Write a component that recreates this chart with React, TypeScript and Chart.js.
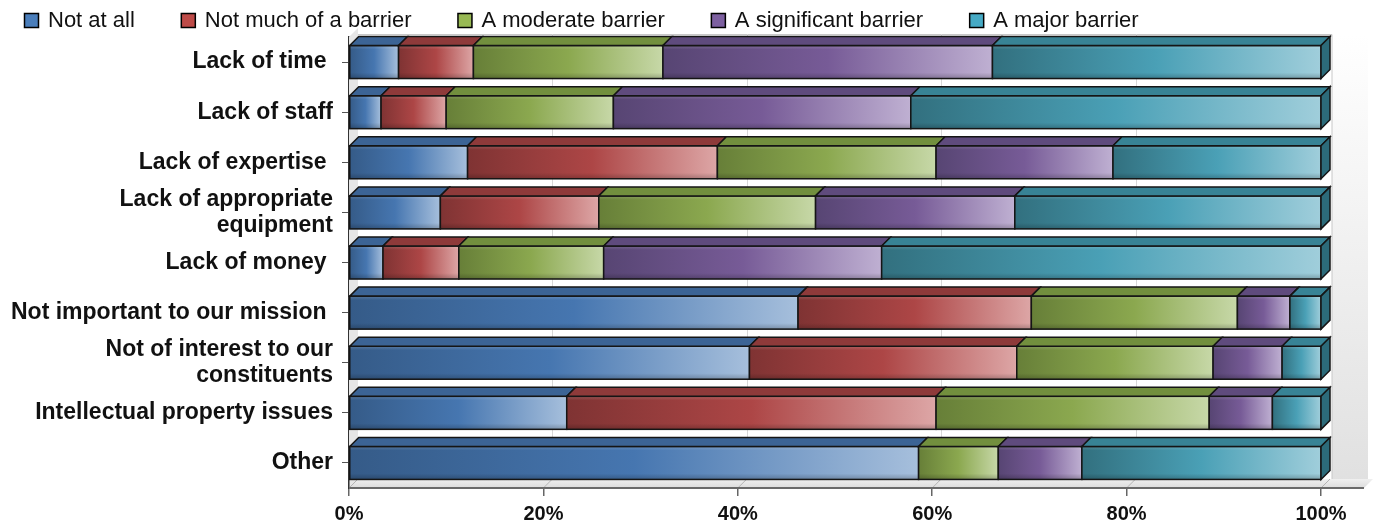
import React, { useEffect, useRef } from 'react';
import { Chart, registerables } from 'chart.js';

Chart.register(...registerables);

const FONT = "'Liberation Sans', Arial, Helvetica, sans-serif";

const categories: (string | string[])[] = [
  'Lack of time ',
  'Lack of staff',
  'Lack of expertise ',
  ['Lack of appropriate', 'equipment'],
  'Lack of money ',
  'Not important to our mission ',
  ['Not of interest to our', 'constituents'],
  'Intellectual property issues',
  'Other',
];

const seriesNames = [
  'Not at all',
  'Not much of a barrier',
  'A moderate barrier',
  'A significant barrier',
  'A major barrier',
];

const notAtAll = [5.1, 3.3, 12.2, 9.4, 3.5, 46.2, 41.2, 22.4, 58.6];
const notMuch = [7.7, 6.7, 25.7, 16.3, 7.8, 24.0, 27.5, 38.0, 0];
const moderate = [19.5, 17.2, 22.5, 22.3, 14.9, 21.2, 20.2, 28.1, 8.2];
const significant = [33.9, 30.6, 18.2, 20.5, 28.6, 5.4, 7.1, 6.5, 8.6];
const major = [33.8, 42.2, 21.4, 31.5, 45.2, 3.2, 4.0, 5.0, 24.6];

const xTickValues = [0, 20, 40, 60, 80, 100];

const seriesValues = [notAtAll, notMuch, moderate, significant, major];

const PAL = [
  { dark: '#355b88', mid: '#4676b0', light: '#a6bfdc', top: '#3c6495', side: '#2f5379', legend: '#4a7ebb' },
  { dark: '#7f3333', mid: '#ad4646', light: '#dda6a6', top: '#8e3a3a', side: '#722d2d', legend: '#be4b48' },
  { dark: '#677f38', mid: '#8ba84f', light: '#c7d8a8', top: '#728f3e', side: '#5b7230', legend: '#98b954' },
  { dark: '#574573', mid: '#775b97', light: '#bfb0d2', top: '#5f4b7d', side: '#4c3c65', legend: '#7d60a0' },
  { dark: '#32707f', mid: '#4aa0b6', light: '#a0cedb', top: '#388395', side: '#2c6b7a', legend: '#46aac5' },
];

const DX = 9;
const DY = 9;

const wallsPlugin = {
  id: 'walls3d',
  beforeDatasetsDraw(chart: any) {
    const { ctx, chartArea } = chart;
    const { left: L, right: R, top: T, bottom: B } = chartArea;
    const x = chart.scales.x;
    const wallTop = T - 3;
    ctx.save();
    // right-side background shading
    const rg = ctx.createLinearGradient(0, wallTop, 0, B);
    rg.addColorStop(0, '#ffffff');
    rg.addColorStop(1, '#e0e0e0');
    ctx.fillStyle = rg;
    ctx.fillRect(R + DX + 2, wallTop, 1368 - (R + DX + 2), B - DY - wallTop);
    // back wall
    ctx.fillStyle = '#ffffff';
    ctx.fillRect(L + DX, wallTop, R + DX + 2 - (L + DX), B - DY - wallTop);
    ctx.strokeStyle = '#c8c8c8';
    ctx.lineWidth = 1;
    ctx.beginPath();
    ctx.moveTo(L + DX, wallTop + 0.5);
    ctx.lineTo(R + DX + 2, wallTop + 0.5);
    ctx.lineTo(R + DX + 2, B - DY);
    ctx.stroke();
    // left wall
    ctx.fillStyle = '#e6e6e6';
    ctx.beginPath();
    ctx.moveTo(L, T);
    ctx.lineTo(L + DX, T - DY);
    ctx.lineTo(L + DX, B - DY);
    ctx.lineTo(L, B);
    ctx.closePath();
    ctx.fill();
    // floor
    const fg = ctx.createLinearGradient(0, B - DY, 0, B);
    fg.addColorStop(0, '#f0f0f0');
    fg.addColorStop(1, '#dcdcdc');
    ctx.fillStyle = fg;
    ctx.beginPath();
    ctx.moveTo(L, B);
    ctx.lineTo(1364, B);
    ctx.lineTo(1364 + DX, B - DY);
    ctx.lineTo(L + DX, B - DY);
    ctx.closePath();
    ctx.fill();
    // grid lines on back wall and floor
    xTickValues.forEach((v) => {
      const px = x.getPixelForValue(v);
      if (v > 0 && v < 100) {
        ctx.strokeStyle = '#d8d8d8';
        ctx.lineWidth = 1;
        ctx.beginPath();
        ctx.moveTo(Math.round(px + DX) + 0.5, wallTop);
        ctx.lineTo(Math.round(px + DX) + 0.5, B - DY);
        ctx.stroke();
      }
      ctx.strokeStyle = '#b4b4b4';
      ctx.beginPath();
      ctx.moveTo(px + DX, B - DY);
      ctx.lineTo(px, B);
      ctx.stroke();
    });
    // left edge of floor
    ctx.strokeStyle = '#888';
    ctx.beginPath();
    ctx.moveTo(L + 0.5, B - DY);
    ctx.lineTo(L + 0.5, B);
    ctx.stroke();
    // front edge of floor (axis line)
    ctx.strokeStyle = '#6a6a6a';
    ctx.lineWidth = 2;
    ctx.beginPath();
    ctx.moveTo(L, B);
    ctx.lineTo(1364, B);
    ctx.stroke();
    ctx.restore();
  },
  afterDatasetsDraw(chart: any) {
    const ctx = chart.ctx;
    const n = chart.data.labels.length;
    ctx.save();
    ctx.lineJoin = 'miter';
    ctx.strokeStyle = '#151515';
    ctx.lineWidth = 1.5;
    for (let i = 0; i < n; i++) {
      let last: any = null;
      for (let d = 0; d < chart.data.datasets.length; d++) {
        const meta = chart.getDatasetMeta(d);
        const el = meta.data[i];
        if (!el) continue;
        const { x, y, base, height } = el.getProps(['x', 'y', 'base', 'height'], true);
        const x0 = Math.min(x, base);
        const x1 = Math.max(x, base);
        if (x1 - x0 < 0.5) continue;
        const y0 = y - height / 2;
        const y1 = y + height / 2;
        const p = PAL[d];
        const g = ctx.createLinearGradient(x0, 0, x1, 0);
        g.addColorStop(0, p.dark);
        g.addColorStop(0.5, p.mid);
        g.addColorStop(1, p.light);
        ctx.fillStyle = g;
        ctx.fillRect(x0, y0, x1 - x0, y1 - y0);
        const vg = ctx.createLinearGradient(0, y0, 0, y1);
        vg.addColorStop(0, 'rgba(255,255,255,0.16)');
        vg.addColorStop(0.12, 'rgba(255,255,255,0)');
        vg.addColorStop(0.82, 'rgba(0,0,0,0)');
        vg.addColorStop(1, 'rgba(0,0,0,0.22)');
        ctx.fillStyle = vg;
        ctx.fillRect(x0, y0, x1 - x0, y1 - y0);
        ctx.strokeRect(x0, y0, x1 - x0, y1 - y0);
        ctx.beginPath();
        ctx.moveTo(x0, y0);
        ctx.lineTo(x0 + DX, y0 - DY);
        ctx.lineTo(x1 + DX, y0 - DY);
        ctx.lineTo(x1, y0);
        ctx.closePath();
        ctx.fillStyle = p.top;
        ctx.fill();
        ctx.stroke();
        last = { x1, y0, y1, d };
      }
      if (last) {
        ctx.beginPath();
        ctx.moveTo(last.x1, last.y0);
        ctx.lineTo(last.x1 + DX, last.y0 - DY);
        ctx.lineTo(last.x1 + DX, last.y1 - DY);
        ctx.lineTo(last.x1, last.y1);
        ctx.closePath();
        ctx.fillStyle = PAL[last.d].side;
        ctx.fill();
        ctx.stroke();
      }
    }
    ctx.restore();
  },
};

const legendPlugin = {
  id: 'customLegend',
  afterDraw(chart: any) {
    const ctx = chart.ctx;
    ctx.save();
    ctx.font = `22px ${FONT}`;
    ctx.textBaseline = 'middle';
    ctx.textAlign = 'left';
    let x = 24;
    const yc = 20;
    chart.data.datasets.forEach((ds: any, i: number) => {
      ctx.fillStyle = PAL[i].legend;
      ctx.fillRect(x + 0.5, yc - 7 + 0.5, 14, 14);
      ctx.strokeStyle = '#000';
      ctx.lineWidth = 1.5;
      ctx.strokeRect(x + 0.5, yc - 7 + 0.5, 14, 14);
      ctx.fillStyle = '#111';
      ctx.fillText(ds.label, x + 24, yc + 1);
      x += 24 + ctx.measureText(ds.label).width + 46;
    });
    ctx.restore();
  },
};

export default function App() {
  const ref = useRef<HTMLCanvasElement | null>(null);

  useEffect(() => {
    if (!ref.current) return;
    const chart = new Chart(ref.current, {
      type: 'bar',
      data: {
        labels: categories as any,
        datasets: seriesNames.map((name, i) => ({
          label: name,
          data: seriesValues[i],
          backgroundColor: PAL[i].mid,
          borderWidth: 0,
          barThickness: 33,
        })),
      },
      options: {
        indexAxis: 'y',
        responsive: false,
        devicePixelRatio: 1,
        animation: false,
        layout: { padding: { top: 37, right: 54, left: 0, bottom: 0 } },
        plugins: {
          legend: { display: false },
          tooltip: { enabled: false },
          title: { display: false },
        },
        scales: {
          x: {
            stacked: true,
            min: 0,
            max: 100,
            afterBuildTicks: (scale: any) => {
              scale.ticks = xTickValues.map((v) => ({ value: v }));
            },
            afterFit: (scale: any) => {
              scale.height = 37;
            },
            grid: {
              display: true,
              drawOnChartArea: false,
              drawTicks: true,
              tickLength: 8,
              color: '#666',
              lineWidth: 1.5,
            },
            border: { display: false },
            ticks: {
              padding: 6,
              color: '#111',
              font: { family: FONT, size: 20, weight: 'bold' },
              callback: (v: any) => `${v}%`,
              maxRotation: 0,
            },
          },
          y: {
            stacked: true,
            afterFit: (scale: any) => {
              scale.width = 349;
            },
            grid: {
              display: true,
              drawOnChartArea: false,
              drawTicks: true,
              tickLength: 7,
              offset: false,
              color: '#555',
              lineWidth: 1,
            },
            border: { display: true, color: '#333', width: 1.5 },
            ticks: {
              padding: 9,
              color: '#111',
              font: { family: FONT, size: 23, weight: 'bold', lineHeight: 1.13 },
              autoSkip: false,
            },
          },
        },
      },
      plugins: [wallsPlugin, legendPlugin],
    });
    return () => chart.destroy();
  }, []);

  return (
    <div style={{ position: 'absolute', left: 0, top: 0, width: 1375, height: 525, background: '#fff' }}>
      <canvas ref={ref} width={1375} height={525} />
    </div>
  );
}
